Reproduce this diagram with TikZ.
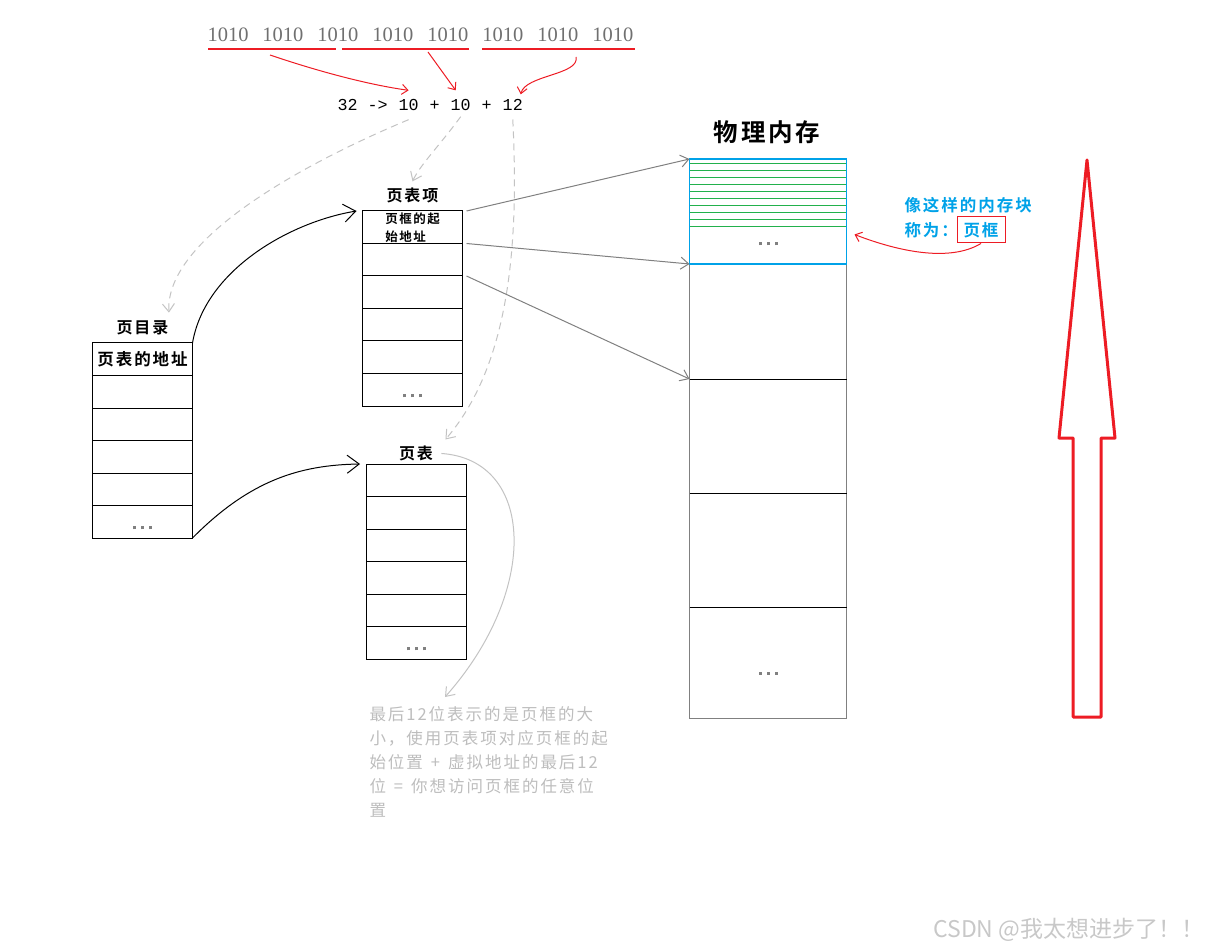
\documentclass[tikz,border=0pt]{standalone}
\usepackage{fontspec}
\setmainfont{Noto Sans CJK SC}[LetterSpace=12,BoldFont={* Bold}]
\setmonofont{Liberation Mono}
\newfontfamily\bitfont{Liberation Serif}
\newfontfamily\markfont{Noto Sans CJK SC}
\usetikzlibrary{positioning,arrows.meta}

\definecolor{paintred}{HTML}{ED1C24}
\definecolor{paintblue}{HTML}{00A2E8}
\definecolor{paintgreen}{HTML}{22B14C}
\definecolor{bitgray}{HTML}{707070}
\definecolor{linegray}{HTML}{808080}
\definecolor{dashgray}{HTML}{C3C3C3}
\definecolor{notegray}{HTML}{BDBDBD}
\definecolor{wmgray}{HTML}{C8C8C8}

\newcommand{\dotsrow}{\raisebox{-7.5pt}[0pt][0pt]{\textcolor{linegray}{\rule{3pt}{3pt}\hspace{5pt}\rule{3pt}{3pt}\hspace{5pt}\rule{3pt}{3pt}}}}

\tikzset{
    cell/.style = {draw, outer sep=0pt, inner sep=0pt, minimum width=100pt, minimum height=32.5pt},
    memcell/.style = {draw=linegray, outer sep=0pt, inner sep=0pt, minimum width=157pt},
    tabtitle/.style = {inner sep=0pt, font=\fontsize{16}{18}\selectfont\bfseries},
    rowlink/.style = {draw=linegray, -{Straight Barb[length=8pt,width=12pt]}},
    bendlink/.style = {draw, -{Straight Barb[length=12pt,width=18pt]}},
    dashhint/.style = {draw=dashgray, dash pattern=on 7pt off 5pt, -{Straight Barb[length=8pt,width=12pt]}},
    redlink/.style = {draw=paintred, -{Straight Barb[length=6pt,width=10pt]}}
}

\begin{document}
\begin{tikzpicture}[x=1pt, y=-1pt, node distance=10pt, line width=1pt]
                \useasboundingbox (0,0) rectangle (1215,949);

                \node (bits) [anchor=base west, inner sep=0pt, text=bitgray, font=\bitfont\fontsize{20.5}{24}\selectfont] at (207,42) {1010\hspace{14pt}1010\hspace{14pt}1010\hspace{14pt}1010\hspace{14pt}1010\hspace{14pt}1010\hspace{14pt}1010\hspace{14pt}1010};
                \draw[paintred, line width=1.3pt] (208,49) -- (336,49);
                \draw[paintred, line width=1.3pt] (342,49) -- (469,49);
                \draw[paintred, line width=1.3pt] (482,49) -- (635,49);
                \coordinate (u1) at (270,55);
                \coordinate (u2) at (428,52);
                \coordinate (u3) at (576,57);

                \node (total) [anchor=base west, inner sep=0pt, font=\ttfamily\fontsize{16.7}{20}\selectfont] at (337,111) {32 ->};
                \node (dirbits) [base right=of total, inner sep=0pt, font=\ttfamily\fontsize{16.7}{20}\selectfont] {10};
                \node (plus1) [base right=of dirbits, inner sep=0pt, font=\ttfamily\fontsize{16.7}{20}\selectfont] {+};
                \node (tblbits) [base right=of plus1, inner sep=0pt, font=\ttfamily\fontsize{16.7}{20}\selectfont] {10};
                \node (plus2) [base right=of tblbits, inner sep=0pt, font=\ttfamily\fontsize{16.7}{20}\selectfont] {+};
                \node (offbits) [base right=of plus2, inner sep=0pt, font=\ttfamily\fontsize{16.7}{20}\selectfont] {12};

                \node (dir1) [cell, font=\fontsize{16.5}{18}\selectfont\bfseries] at (142.5,359.25) {页表的地址};
                \node (dir2) [cell, below=0pt of dir1] {};
                \node (dir3) [cell, below=0pt of dir2] {};
                \node (dir4) [cell, below=0pt of dir3] {};
                \node (dir5) [cell, below=0pt of dir4] {};
                \node (dir6) [cell, below=0pt of dir5] {\dotsrow};
                \node (dirtitle) [tabtitle, above=7pt of dir1] {页目录};

                \node (pte1) [cell, align=left, font=\fontsize{12.5}{18}\selectfont\bfseries] at (412.5,227.25) {页框的起\\始地址};
                \node (pte2) [cell, below=0pt of pte1] {};
                \node (pte3) [cell, below=0pt of pte2] {};
                \node (pte4) [cell, below=0pt of pte3] {};
                \node (pte5) [cell, below=0pt of pte4] {};
                \node (pte6) [cell, below=0pt of pte5] {\dotsrow};
                \node (ptetitle) [tabtitle, above=7.5pt of pte1] {页表项};

                \node (pt1) [cell] at (416,480.25) {};
                \node (pt2) [cell, below=0pt of pt1] {};
                \node (pt3) [cell, below=0pt of pt2] {};
                \node (pt4) [cell, below=0pt of pt3] {};
                \node (pt5) [cell, below=0pt of pt4] {};
                \node (pt6) [cell, below=0pt of pt5] {\dotsrow};
                \node (pttitle) [tabtitle, above=2.5pt of pt1] {页表};

                \node (mem1) [memcell, minimum height=115pt] at (768,321.5) {};
                \node (mem2) [memcell, minimum height=114pt, below=0pt of mem1] {};
                \node (mem3) [memcell, minimum height=114pt, below=0pt of mem2] {};
                \node (mem4) [memcell, minimum height=111pt, below=0pt of mem3] {};
                \draw (mem2.north west) -- (mem2.north east);
                \draw (mem3.north west) -- (mem3.north east);
                \draw (mem4.north west) -- (mem4.north east);
                \foreach \i in {0,...,9}
                    \draw[paintgreen] (689.5,164+6.9*\i) -- (846.5,164+6.9*\i);
                \node (mem0) [memcell, draw=paintblue, line width=1.3pt, minimum height=105pt, above=0pt of mem1] {};
                \node (memdots1) at ([yshift=-26.5pt]mem0.center) {\dotsrow};
                \node (memdots2) at ([yshift=-4.5pt]mem4.center) {\dotsrow};
                \node (memtitle) [inner sep=0pt, font=\fontsize{24.5}{28}\selectfont\bfseries] at (767,132) {物理内存};

                \node (blockinfo) [anchor=north west, align=left, inner sep=0pt, text=paintblue, font=\fontsize{16.5}{25}\selectfont\bfseries] at (904,197) {像这样的内存块\\称为：};
                \node (frame) [draw=paintred, inner sep=0pt, minimum width=48pt, minimum height=26pt, text=paintblue, font=\fontsize{16.5}{18}\selectfont\bfseries] at (981,230) {页框};

                \node (note) [anchor=north west, align=left, inner sep=0pt, text=notegray, font=\fontsize{16.5}{24}\selectfont] at (369,706) {最后12位表示的是页框的大\\小，使用页表项对应页框的起\\始位置\hspace{8pt}+\hspace{8pt}虚拟地址的最后12\\位\hspace{8pt}=\hspace{8pt}你想访问页框的任意位\\置};

                \node (csdn) [anchor=east, inner sep=0pt, text=wmgray, font=\markfont\fontsize{23}{26}\selectfont] at (1205,930) {CSDN @我太想进步了！！};

                \draw[paintred, line width=3pt, line join=round] (1087,160) -- (1115,438) -- (1101,438) -- (1101,717) -- (1073,717) -- (1073,438) -- (1059,438) -- cycle;

                \draw[redlink] (u1) .. controls (320,72) and (370,85) .. ([yshift=9pt]dirbits.north);
                \draw[redlink] (u2) -- ([xshift=-5pt,yshift=9pt]tblbits.north);
                \draw[redlink] (u3) .. controls (580,75) and (525,75) .. ([xshift=8pt,yshift=5pt]offbits.north);

                \draw[dashhint] ([yshift=-8pt]dirbits.south) .. controls (300,165) and (165,240) .. ([yshift=8pt]dirtitle.north east);
                \draw[dashhint] ([yshift=-5pt]tblbits.south) .. controls (440,145) and (420,165) .. ([yshift=6pt]ptetitle.north);
                \draw[dashhint] ([yshift=-8pt]offbits.south) .. controls (520,260) and (505,370) .. ([xshift=12pt,yshift=6pt]pttitle.north east);
                \draw[draw=dashgray, -{Straight Barb[length=8pt,width=12pt]}] ([xshift=8pt]pttitle.east) .. controls (535,460) and (540,590) .. ([xshift=76pt,yshift=9pt]note.north west);

                \draw[bendlink] (dir1.north east) .. controls (205,270) and (290,222) .. ([xshift=-6pt]pte1.north west);
                \draw[bendlink] (dir6.south east) .. controls (250,480) and (300,465) .. ([xshift=-6pt]pt1.north west);

                \draw[rowlink] ([xshift=4pt]pte1.north east) -- (mem0.north west);
                \draw[rowlink] ([xshift=4pt]pte2.north east) -- (mem1.north west);
                \draw[rowlink] ([xshift=4pt]pte3.north east) -- (mem2.north west);

                \draw[redlink] (frame.south) .. controls (950,262) and (900,252) .. ([xshift=8pt,yshift=-23pt]mem0.east);
\end{tikzpicture}
\end{document}
